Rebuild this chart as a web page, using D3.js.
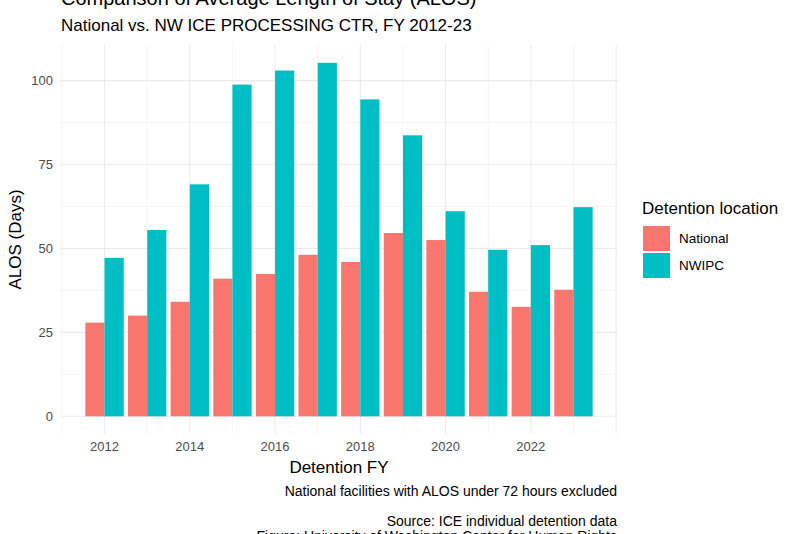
<!DOCTYPE html>
<html><head><meta charset="utf-8">
<script src="https://cdn.jsdelivr.net/npm/d3@7"></script>
<style>body{margin:0;background:#fff}text{font-family:"Liberation Sans",Arial,sans-serif}</style>
</head><body><svg id="c" width="800" height="534"></svg>
<script>
// data
var years = [2012,2013,2014,2015,2016,2017,2018,2019,2020,2021,2022,2023];
var national = [27.9,30,34.1,41,42.4,48.1,46,54.6,52.5,37.1,32.6,37.7];
var nwipc = [47.2,55.5,69.1,98.8,103,105.3,94.4,83.7,61.1,49.6,51,62.3];
var series = ["National","NWIPC"];
var colors = ["#F8766D","#00BFC4"];
var xTicks = [2012,2014,2016,2018,2020,2022];
var yTicks = [0,25,50,75,100];

var svg = d3.select("#c");
var pLeft = 60, pRight = 618, pTop = 45, pBottom = 434;
var x = d3.scaleLinear().domain([2010.955,2024.045]).range([pLeft,pRight]);
var y = d3.scaleLinear().domain([-5.27,110.6]).range([pBottom,pTop]);

// grid
var g = svg.append("g");
d3.range(2011,2025).forEach(function(v){
  g.append("line").attr("x1",x(v)).attr("x2",x(v)).attr("y1",pTop).attr("y2",pBottom)
   .attr("stroke","#ebebeb").attr("stroke-width",v%2==0?1.1:0.55);
});
d3.range(0,112,12.5).forEach(function(v){
  g.append("line").attr("x1",pLeft).attr("x2",pRight).attr("y1",y(v)).attr("y2",y(v))
   .attr("stroke","#ebebeb").attr("stroke-width",v%25==0?1.1:0.55);
});

// bars
var bw = 0.45;
years.forEach(function(yr,i){
  [national[i],nwipc[i]].forEach(function(v,j){
    var x0 = yr - 0.45 + j*bw;
    svg.append("rect").attr("x",x(x0)).attr("width",x(x0+bw)-x(x0))
      .attr("y",y(v)).attr("height",y(0)-y(v)).attr("fill",colors[j]);
  });
});

// axis labels
xTicks.forEach(function(t){
  svg.append("text").attr("x",x(t)).attr("y",pBottom+17).attr("text-anchor","middle")
    .attr("font-size",13).attr("fill","#4d4d4d").text(t);
});
yTicks.forEach(function(t){
  svg.append("text").attr("x",pLeft-7).attr("y",y(t)+4.5).attr("text-anchor","end")
    .attr("font-size",13).attr("fill","#4d4d4d").text(t);
});
svg.append("text").attr("x",(pLeft+pRight)/2).attr("y",473).attr("text-anchor","middle")
  .attr("font-size",17).text("Detention FY");
svg.append("text").attr("transform","translate(21,"+((pTop+pBottom)/2)+") rotate(-90)")
  .attr("text-anchor","middle").attr("font-size",17).text("ALOS (Days)");

// titles
svg.append("text").attr("x",61).attr("y",5).attr("font-size",20).text("Comparison of Average Length of Stay (ALOS)");
svg.append("text").attr("x",61).attr("y",31).attr("font-size",17).text("National vs. NW ICE PROCESSING CTR, FY 2012-23");

// caption
[["National facilities with ALOS under 72 hours excluded",496],["Source: ICE individual detention data",526],["Figure: University of Washington Center for Human Rights",541]]
.forEach(function(c){
  svg.append("text").attr("x",pRight-1).attr("y",c[1]).attr("text-anchor","end").attr("font-size",14).text(c[0]);
});

// legend
svg.append("text").attr("x",642).attr("y",214).attr("font-size",17).text("Detention location");
series.forEach(function(s,i){
  svg.append("rect").attr("x",643).attr("y",226+i*27).attr("width",27).attr("height",25).attr("fill",colors[i]);
  svg.append("text").attr("x",679).attr("y",243+i*27).attr("font-size",13.5).text(s);
});
</script></body></html>
